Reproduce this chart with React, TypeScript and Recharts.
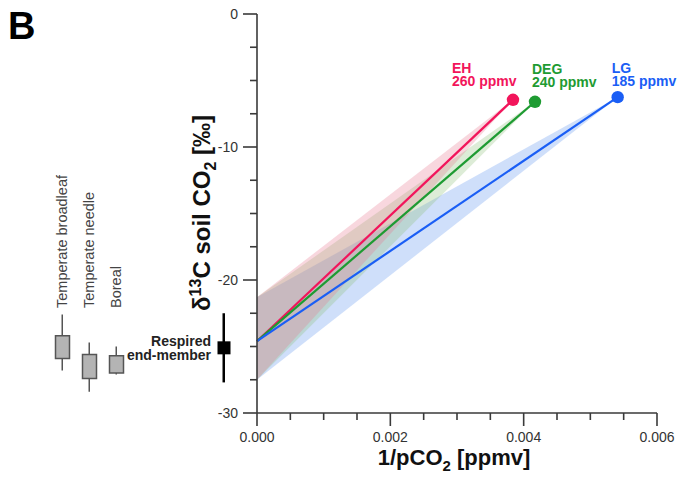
import React from 'react';
import { ComposedChart, Line, Area, XAxis, YAxis, Bar, Scatter, LabelList } from 'recharts';

const FONT = '"Liberation Sans", Arial, Helvetica, sans-serif';

// ---------- main panel data ----------
const scenarioKeys = ['EH', 'DEG', 'LG'];
const scenarioPpmvLabels = ['260 ppmv', '240 ppmv', '185 ppmv'];
const endInvPco2 = [0.00384, 0.00417, 0.00541];
const endDelta13C = [-6.45, -6.6, -6.25];
const respiredStartDelta = -24.6;
const respiredBandHigh = -21.3;
const respiredBandLow = -27.5;

const xTicks = [0, 0.0005, 0.001, 0.0015, 0.002, 0.0025, 0.003, 0.0035, 0.004, 0.0045, 0.005, 0.0055, 0.006];
const xTickLabels = ['0.000', '', '', '', '0.002', '', '', '', '0.004', '', '', '', '0.006'];
const yTicks = [0, -2.5, -5, -7.5, -10, -12.5, -15, -17.5, -20, -22.5, -25, -27.5, -30];
const yTickLabels = ['0', '', '', '', '-10', '', '', '', '-20', '', '', '', '-30'];

// ---------- left panel data ----------
const groupKeys = ['broadleaf', 'needle', 'boreal', 'gap1', 'gap2', 'gap3', 'respired'];
const groupLabels = ['Temperate broadleaf', 'Temperate needle', 'Boreal', '', '', '', ''];
const boxLow = [-25.9, -27.4, -27.0, null, null, null, null];
const boxHigh = [-24.2, -25.6, -25.7, null, null, null, null];
const whiskerLow = [-26.8, -28.4, -27.1, null, null, null, null];
const whiskerHigh = [-22.6, -24.7, -25.0, null, null, null, null];
const respiredMean = -25.1;
const respiredLow = -27.7;
const respiredHigh = -22.5;
const respiredLabel = ['Respired', 'end-member'];

// ---------- styles ----------
const scenarioColors = ['#f2155b', '#1e9b32', '#1a5ef5'];
const bandColors = ['#e77a93', '#8fc07a', '#5f95ee'];
const labelOffsets = [
  { dx: -61, dy: -27 },
  { dx: -3, dy: -28 },
  { dx: -6, dy: -24 },
];
const AXIS = '#3a3a3a';

// ---------- tables ----------
const xs = [0, ...endInvPco2];
const mainRows = xs.map((x) => {
  const row: any = { x };
  scenarioKeys.forEach((k, i) => {
    if (x === 0) {
      row[k] = respiredStartDelta;
      row[k + '_band'] = [respiredBandLow, respiredBandHigh];
    } else if (x === endInvPco2[i]) {
      row[k] = endDelta13C[i];
      row[k + '_band'] = [endDelta13C[i], endDelta13C[i]];
    } else {
      row[k] = null;
      row[k + '_band'] = null;
    }
  });
  return row;
});

const leftRows = groupKeys.map((key, i) => ({
  key,
  label: groupLabels[i],
  box: boxLow[i] != null ? [boxLow[i], boxHigh[i]] : null,
  whisker: whiskerLow[i] != null ? [whiskerLow[i], whiskerHigh[i]] : null,
  em: key === 'respired' ? [respiredLow, respiredHigh] : null,
  mean: key === 'respired' ? respiredMean : null,
}));

const XTick = (props: any) => {
  const { x, y, index } = props;
  const label = xTickLabels[index] ?? '';
  const major = label !== '';
  return (
    <g>
      <line x1={x} x2={x} y1={y} y2={y + (major ? 13 : 7)} stroke={AXIS} strokeWidth={1.6} />
      {major && (
        <text x={x} y={y + 29} textAnchor="middle" fontSize={14} fill="#333" fontFamily={FONT}>
          {label}
        </text>
      )}
    </g>
  );
};

const YTick = (props: any) => {
  const { x, y, index } = props;
  const label = yTickLabels[index] ?? '';
  const major = label !== '';
  return (
    <g>
      <line x1={x - (major ? 14 : 7)} x2={x} y1={y} y2={y} stroke={AXIS} strokeWidth={1.6} />
      {major && (
        <text x={x - 19} y={y + 5} textAnchor="end" fontSize={14} fill="#333" fontFamily={FONT}>
          {label}
        </text>
      )}
    </g>
  );
};

const makeDot = (i: number) => (props: any) => {
  const { cx, cy, payload } = props;
  const k = scenarioKeys[i];
  if (!payload || payload.x !== endInvPco2[i] || cy == null || isNaN(cy)) {
    return <g key={`d-${k}-${props.index}`} />;
  }
  const off = labelOffsets[i];
  return (
    <g key={`d-${k}-${props.index}`}>
      <circle cx={cx} cy={cy} r={6.2} fill={scenarioColors[i]} />
      <text x={cx + off.dx} y={cy + off.dy} fontSize={14} fontWeight="bold" fill={scenarioColors[i]} fontFamily={FONT}>
        {k}
      </text>
      <text x={cx + off.dx} y={cy + off.dy + 13} fontSize={14} fontWeight="bold" fill={scenarioColors[i]} fontFamily={FONT}>
        {scenarioPpmvLabels[i]}
      </text>
    </g>
  );
};

const GroupLabel = (props: any) => {
  const { x, width, value } = props;
  if (!value) return null;
  const tx = x + width / 2 + 5;
  const ty = 308;
  return (
    <text x={tx} y={ty} transform={`rotate(-90, ${tx}, ${ty})`} fontSize={14.5} fill="#444" fontFamily={FONT}>
      {value}
    </text>
  );
};

const RespiredShape = (props: any) => {
  const { cx, cy, payload } = props;
  if (!payload || payload.mean == null || cx == null || cy == null || isNaN(cy)) return <g />;
  return (
    <g>
      <rect x={cx - 6.5} y={cy - 6.5} width={13} height={13} fill="#000" />
      <text x={cx - 13} y={cy - 2} textAnchor="end" fontSize={14} fontWeight="bold" fill="#222" fontFamily={FONT}>
        {respiredLabel[0]}
      </text>
      <text x={cx - 13} y={cy + 12} textAnchor="end" fontSize={14} fontWeight="bold" fill="#222" fontFamily={FONT}>
        {respiredLabel[1]}
      </text>
    </g>
  );
};

export default function App() {
  return (
    <div style={{ position: 'absolute', left: 0, top: 0, width: 677, height: 483, background: '#fff', fontFamily: FONT }}>
      <div style={{ position: 'absolute', left: 0, top: 0 }}>
        <ComposedChart width={677} height={483} data={mainRows} margin={{ top: 14, right: 20, bottom: 40, left: 217 }}>
          <XAxis
            type="number"
            dataKey="x"
            domain={[0, 0.006]}
            ticks={xTicks}
            interval={0}
            height={30}
            tickSize={0}
            tickMargin={0}
            tickLine={false}
            axisLine={{ stroke: AXIS, strokeWidth: 1.6 }}
            tick={<XTick />}
          />
          <YAxis
            type="number"
            domain={[-30, 0]}
            ticks={yTicks}
            interval={0}
            width={40}
            tickSize={0}
            tickMargin={0}
            tickLine={false}
            axisLine={{ stroke: AXIS, strokeWidth: 1.6 }}
            tick={<YTick />}
          />
          {[2, 1, 0].map((i) => (
            <Area
              key={`band-${i}`}
              type="linear"
              dataKey={scenarioKeys[i] + '_band'}
              stroke="none"
              fill={bandColors[i]}
              fillOpacity={0.3}
              connectNulls
              dot={false}
              activeDot={false}
              isAnimationActive={false}
            />
          ))}
          {[0, 1, 2].map((i) => (
            <Line
              key={`line-${i}`}
              type="linear"
              dataKey={scenarioKeys[i]}
              stroke={scenarioColors[i]}
              strokeWidth={2.2}
              connectNulls
              dot={makeDot(i)}
              activeDot={false}
              isAnimationActive={false}
            />
          ))}
        </ComposedChart>
      </div>
      <div style={{ position: 'absolute', left: 0, top: 0 }}>
        <ComposedChart width={240} height={483} data={leftRows} margin={{ top: 14, right: 2.5, bottom: 70, left: 48.5 }}>
          <XAxis xAxisId="w" type="category" dataKey="key" hide />
          <XAxis xAxisId="b" type="category" dataKey="key" hide />
          <XAxis xAxisId="e" type="category" dataKey="key" hide />
          <YAxis type="number" domain={[-30, 0]} hide />
          <Bar xAxisId="w" dataKey="whisker" barSize={1.5} fill="#555" isAnimationActive={false}>
            <LabelList dataKey="label" content={<GroupLabel />} />
          </Bar>
          <Bar xAxisId="b" dataKey="box" barSize={14} fill="#b4b4b4" stroke="#555" strokeWidth={1.5} isAnimationActive={false} />
          <Bar xAxisId="e" dataKey="em" barSize={2.5} fill="#000" isAnimationActive={false} />
          <Scatter xAxisId="e" dataKey="mean" shape={<RespiredShape />} isAnimationActive={false} />
        </ComposedChart>
      </div>
      <svg width={677} height={483} style={{ position: 'absolute', left: 0, top: 0, pointerEvents: 'none' }}>
        <text x={8} y={39} fontSize={38} fontWeight="bold" fill="#000" fontFamily={FONT}>B</text>
        <text x={210} y={213} transform="rotate(-90, 210, 213)" textAnchor="middle" fontSize={24} fontWeight="bold" fill="#111" fontFamily={FONT}>
          δ<tspan dy={-9} fontSize={16}>13</tspan>
          <tspan dy={9}>C soil CO</tspan>
          <tspan dy={6} fontSize={16}>2</tspan>
          <tspan dy={-6}> [‰]</tspan>
        </text>
        <text x={454} y={465} textAnchor="middle" fontSize={22} fontWeight="bold" fill="#111" fontFamily={FONT}>
          1/pCO<tspan dy={6} fontSize={15}>2</tspan>
          <tspan dy={-6}> [ppmv]</tspan>
        </text>
      </svg>
    </div>
  );
}
